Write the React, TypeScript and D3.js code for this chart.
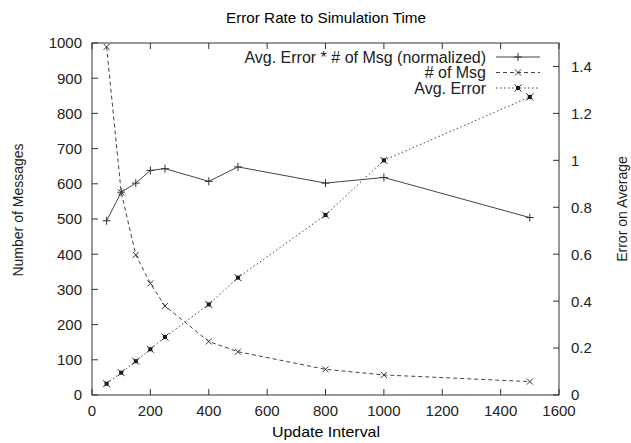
import React, { useEffect, useRef } from 'react';
import * as d3 from 'd3';

// update interval (x)
const intervals = [50, 100, 150, 200, 250, 400, 500, 800, 1000, 1500];
// Avg. Error * # of Msg (normalized), left axis
const normalized = [495, 576, 602, 638, 643, 607, 648, 602, 618, 504];
// # of Msg, left axis
const numMsg = [989, 576, 398, 317, 253, 152, 123, 73, 57, 38];
// Avg. Error, right axis
const avgError = [0.048, 0.095, 0.144, 0.195, 0.247, 0.386, 0.5, 0.767, 1.0, 1.27];

const xTicks = [0, 200, 400, 600, 800, 1000, 1200, 1400, 1600];
const yTicks = [0, 100, 200, 300, 400, 500, 600, 700, 800, 900, 1000];
const y2Ticks = [0, 0.2, 0.4, 0.6, 0.8, 1, 1.2, 1.4];

const FONT = '"Liberation Sans", Arial, sans-serif';

const App = () => {
  const svgRef = useRef(null);

  useEffect(() => {
    const svg = d3.select(svgRef.current);
    svg.selectAll('*').remove();

    const W = 631, H = 443;
    const m = { top: 43, right: 72, bottom: 48, left: 92 };
    const x = d3.scaleLinear().domain([0, 1600]).range([m.left, W - m.right]);
    const y = d3.scaleLinear().domain([0, 1000]).range([H - m.bottom, m.top]);
    const y2 = d3.scaleLinear().domain([0, 1.5]).range([H - m.bottom, m.top]);
    const x0 = m.left, x1 = W - m.right, yb = H - m.bottom, yt = m.top;
    const ink = '#333';

    svg.attr('width', W).attr('height', H).style('background', '#fff');

    // frame
    svg.append('rect')
      .attr('x', x0).attr('y', yt).attr('width', x1 - x0).attr('height', yb - yt)
      .attr('fill', 'none').attr('stroke', ink).attr('stroke-width', 1);

    const tl = 6;
    // x ticks (bottom + mirrored top)
    xTicks.forEach(t => {
      svg.append('line').attr('x1', x(t)).attr('x2', x(t)).attr('y1', yb).attr('y2', yb - tl)
        .attr('stroke', ink);
      svg.append('line').attr('x1', x(t)).attr('x2', x(t)).attr('y1', yt).attr('y2', yt + tl)
        .attr('stroke', ink);
      svg.append('text').attr('x', x(t)).attr('y', yb + 21).attr('text-anchor', 'middle')
        .attr('font-family', FONT).attr('font-size', 15).attr('fill', '#222').text(t);
    });
    // left y ticks
    yTicks.forEach(t => {
      svg.append('line').attr('x1', x0).attr('x2', x0 + tl).attr('y1', y(t)).attr('y2', y(t))
        .attr('stroke', ink);
      svg.append('text').attr('x', x0 - 10).attr('y', y(t)).attr('dy', '0.36em')
        .attr('text-anchor', 'end')
        .attr('font-family', FONT).attr('font-size', 15).attr('fill', '#222').text(t);
    });
    // right y2 ticks
    y2Ticks.forEach(t => {
      svg.append('line').attr('x1', x1).attr('x2', x1 - tl).attr('y1', y2(t)).attr('y2', y2(t))
        .attr('stroke', ink);
      svg.append('text').attr('x', x1 + 12).attr('y', y2(t)).attr('dy', '0.36em')
        .attr('text-anchor', 'start')
        .attr('font-family', FONT).attr('font-size', 15).attr('fill', '#222').text(t);
    });

    // titles
    svg.append('text').attr('x', 326).attr('y', 23).attr('text-anchor', 'middle')
      .attr('font-family', FONT).attr('font-size', 15).attr('fill', '#000')
      .attr('textLength', 200).attr('lengthAdjust', 'spacingAndGlyphs')
      .text('Error Rate to Simulation Time');
    svg.append('text').attr('x', 326).attr('y', 437).attr('text-anchor', 'middle')
      .attr('font-family', FONT).attr('font-size', 15).attr('fill', '#000')
      .attr('textLength', 108).attr('lengthAdjust', 'spacingAndGlyphs')
      .text('Update Interval');
    svg.append('text').attr('transform', `translate(23,210) rotate(-90)`)
      .attr('text-anchor', 'middle')
      .attr('font-family', FONT).attr('font-size', 14).attr('fill', '#222')
      .text('Number of Messages');
    svg.append('text').attr('transform', `translate(627,209) rotate(-90)`)
      .attr('text-anchor', 'middle')
      .attr('font-family', FONT).attr('font-size', 14).attr('fill', '#222')
      .text('Error on Average');

    // markers
    const plus = (g, cx, cy) => {
      g.append('path').attr('d', `M${cx - 4},${cy}H${cx + 4}M${cx},${cy - 4}V${cy + 4}`)
        .attr('stroke', ink).attr('stroke-width', 1);
    };
    const cross = (g, cx, cy) => {
      g.append('path').attr('d', `M${cx - 3},${cy - 3}L${cx + 3},${cy + 3}M${cx - 3},${cy + 3}L${cx + 3},${cy - 3}`)
        .attr('stroke', ink).attr('stroke-width', 1);
    };
    const star = (g, cx, cy) => {
      g.append('rect').attr('x', cx - 2).attr('y', cy - 2).attr('width', 4).attr('height', 4)
        .attr('fill', '#111');
      g.append('path').attr('d', `M${cx - 3.5},${cy - 3.5}L${cx + 3.5},${cy + 3.5}M${cx - 3.5},${cy + 3.5}L${cx + 3.5},${cy - 3.5}`)
        .attr('stroke', '#222').attr('stroke-width', 1);
    };

    const series = [
      { name: 'Avg. Error * # of Msg (normalized)', vals: normalized, ys: y, dash: null, mark: plus },
      { name: '# of Msg', vals: numMsg, ys: y, dash: '4,3', mark: cross },
      { name: 'Avg. Error', vals: avgError, ys: y2, dash: '1.5,2.5', mark: star },
    ];

    const lgX = 486, lgY = 57, lgStep = 15.5;
    series.forEach((s, i) => {
      const pts = intervals.map((d, j) => [x(d), s.ys(s.vals[j])]);
      const line = d3.line();
      const p = svg.append('path').attr('d', line(pts)).attr('fill', 'none')
        .attr('stroke', '#444').attr('stroke-width', 1);
      if (s.dash) p.attr('stroke-dasharray', s.dash);
      pts.forEach(([cx, cy]) => s.mark(svg, cx, cy));

      // legend
      const ly = lgY + i * lgStep;
      svg.append('text').attr('x', lgX).attr('y', ly).attr('dy', '0.36em').attr('text-anchor', 'end')
        .attr('font-family', FONT).attr('font-size', 16).attr('fill', '#222').text(s.name);
      const lp = svg.append('line').attr('x1', 496).attr('x2', 540).attr('y1', ly).attr('y2', ly)
        .attr('stroke', '#444').attr('stroke-width', 1);
      if (s.dash) lp.attr('stroke-dasharray', s.dash);
      s.mark(svg, 518, ly);
    });
  }, []);

  return (
    <svg ref={svgRef} style={{ position: 'absolute', left: 0, top: 0, display: 'block' }}></svg>
  );
};

export default App;
